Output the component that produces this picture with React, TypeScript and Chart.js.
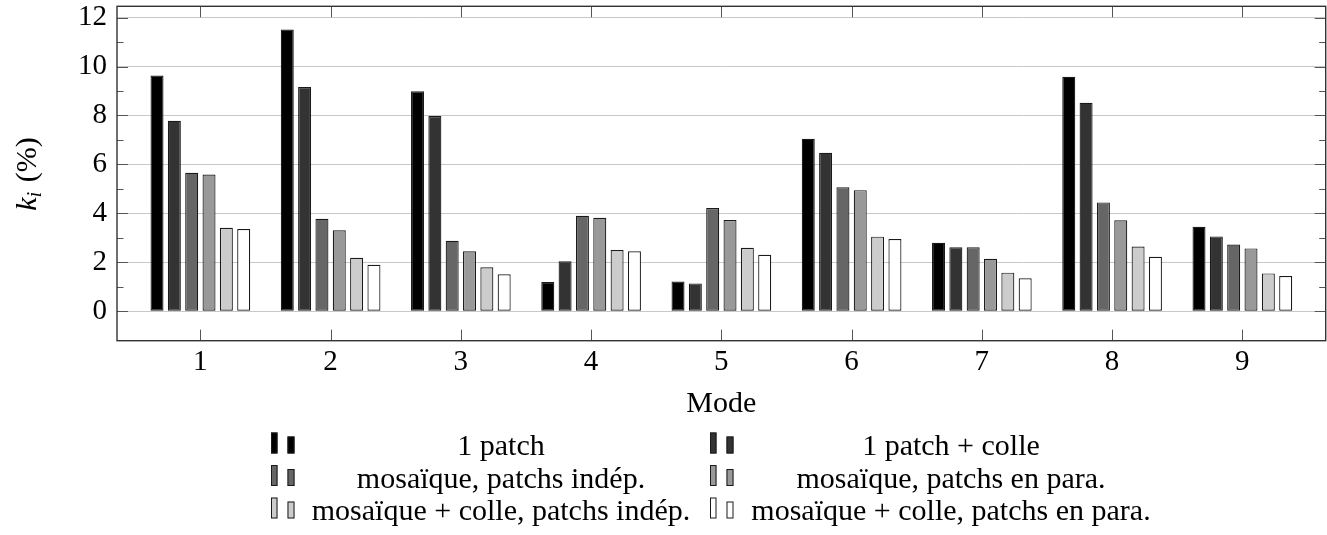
import React, { useEffect, useRef } from 'react';
import { Chart, registerables } from 'chart.js';

Chart.register(...registerables);

const categories = [1, 2, 3, 4, 5, 6, 7, 8, 9];
const seriesNames = [
  '1 patch',
  '1 patch + colle',
  'mosaïque, patchs indép.',
  'mosaïque, patchs en para.',
  'mosaïque + colle, patchs indép.',
  'mosaïque + colle, patchs en para.',
];
const onePatch = [9.63, 11.51, 8.99, 1.2, 1.22, 7.05, 2.8, 9.58, 3.45];
const onePatchColle = [7.78, 9.16, 7.98, 2.05, 1.14, 6.48, 2.62, 8.52, 3.06];
const mosaicIndep = [5.66, 3.78, 2.88, 3.9, 4.22, 5.07, 2.62, 4.45, 2.73];
const mosaicPara = [5.59, 3.31, 2.45, 3.82, 3.73, 4.95, 2.15, 3.72, 2.57];
const mosaicColleIndep = [3.41, 2.19, 1.8, 2.5, 2.6, 3.05, 1.58, 2.65, 1.55];
const mosaicCollePara = [3.36, 1.9, 1.51, 2.45, 2.31, 2.95, 1.35, 2.23, 1.44];
const yTicks = [0, 2, 4, 6, 8, 10, 12];
const yMinorTicks = [1, 3, 5, 7, 9, 11];
const xTitle = 'Mode';

const allSeries = [onePatch, onePatchColle, mosaicIndep, mosaicPara, mosaicColleIndep, mosaicCollePara];
const fills = ['#000000', '#333333', '#666666', '#999999', '#cccccc', '#ffffff'];
const FAM = "'Liberation Serif', 'Times New Roman', serif";

const decorPlugin = {
  id: 'decor',
  afterDatasetsDraw(chart: any) {
    const { ctx, chartArea } = chart;
    const xs = chart.scales.x;
    const ys = chart.scales.y;
    const { left, right, top, bottom } = chartArea;
    ctx.save();
    ctx.strokeStyle = '#555555';
    ctx.lineWidth = 1;
    categories.forEach((c) => {
      const px = Math.round(xs.getPixelForValue(c)) + 0.5;
      ctx.beginPath();
      ctx.moveTo(px, bottom);
      ctx.lineTo(px, bottom - 11);
      ctx.moveTo(px, top);
      ctx.lineTo(px, top + 11);
      ctx.stroke();
    });
    yTicks.forEach((v) => {
      const py = Math.round(ys.getPixelForValue(v)) + 0.5;
      ctx.beginPath();
      ctx.moveTo(left, py);
      ctx.lineTo(left + 11, py);
      ctx.moveTo(right, py);
      ctx.lineTo(right - 11, py);
      ctx.stroke();
    });
    yMinorTicks.forEach((v) => {
      const py = Math.round(ys.getPixelForValue(v)) + 0.5;
      ctx.beginPath();
      ctx.moveTo(left, py);
      ctx.lineTo(left + 6.5, py);
      ctx.moveTo(right, py);
      ctx.lineTo(right - 6.5, py);
      ctx.stroke();
    });
    ctx.strokeStyle = '#333333';
    ctx.lineWidth = 1.4;
    ctx.strokeRect(left, top, right - left, bottom - top);
    ctx.restore();
  },
  afterDraw(chart: any) {
    const { ctx, chartArea } = chart;
    ctx.save();
    ctx.fillStyle = '#000';
    ctx.save();
    ctx.translate(36, 174);
    ctx.rotate(-Math.PI / 2);
    const fK = `italic 30px ${FAM}`;
    const fI = `italic 21px ${FAM}`;
    const fR = `30px ${FAM}`;
    ctx.font = fK;
    const wK = ctx.measureText('k').width;
    ctx.font = fI;
    const wI = ctx.measureText('i').width + 2;
    ctx.font = fR;
    const wR = ctx.measureText(' (%)').width;
    const x0 = -(wK + wI + wR) / 2;
    ctx.textAlign = 'left';
    ctx.textBaseline = 'alphabetic';
    ctx.font = fK;
    ctx.fillText('k', x0, 0);
    ctx.font = fI;
    ctx.fillText('i', x0 + wK, 5);
    ctx.font = fR;
    ctx.fillText(' (%)', x0 + wK + wI, 0);
    ctx.restore();

    ctx.font = `30px ${FAM}`;
    ctx.textAlign = 'center';
    ctx.textBaseline = 'alphabetic';
    ctx.fillText(xTitle, (chartArea.left + chartArea.right) / 2, 411.5);

    const colMarkerX = [271, 710];
    const colTextX = [501, 951];
    const rowBase = [455, 487.5, 520];
    ctx.font = `30px ${FAM}`;
    seriesNames.forEach((name, i) => {
      const r = Math.floor(i / 2);
      const c = i % 2;
      const base = rowBase[r];
      const mb = base - 1.5;
      ctx.fillStyle = fills[i];
      ctx.strokeStyle = '#1a1a1a';
      ctx.lineWidth = 1;
      ctx.fillRect(colMarkerX[c], mb - 21, 6.5, 21);
      ctx.strokeRect(colMarkerX[c] + 0.5, mb - 20.5, 5.5, 20);
      ctx.fillRect(colMarkerX[c] + 16.5, mb - 17, 7, 17);
      ctx.strokeRect(colMarkerX[c] + 17, mb - 16.5, 6, 16);
      ctx.fillStyle = '#000';
      ctx.textAlign = 'center';
      ctx.fillText(name, colTextX[c], base);
    });
    ctx.restore();
  },
};

export default function App() {
  const ref = useRef<HTMLCanvasElement | null>(null);
  useEffect(() => {
    if (!ref.current) return;
    const chart = new Chart(ref.current, {
      type: 'bar',
      data: {
        datasets: allSeries.map((vals, i) => ({
          label: seriesNames[i],
          data: categories.map((c, j) => ({ x: c, y: vals[j] })),
          backgroundColor: fills[i],
          borderColor: '#1a1a1a',
          borderWidth: 1.2,
          borderSkipped: false,
          categoryPercentage: 0.7985,
          barPercentage: 0.75,
        })),
      },
      options: {
        responsive: false,
        maintainAspectRatio: false,
        animation: false,
        layout: { padding: { top: 6.3, right: 1.3, left: 0, bottom: 0 } },
        plugins: { legend: { display: false }, tooltip: { enabled: false } },
        scales: {
          x: {
            type: 'linear',
            min: 0.36,
            max: 9.64,
            offset: false,
            grid: { display: false, drawTicks: false },
            border: { display: false },
            afterBuildTicks: (s: any) => {
              s.ticks = categories.map((v) => ({ value: v }));
            },
            afterFit: (s: any) => {
              s.height = 194.3;
              s.paddingLeft = 0;
              s.paddingRight = 0;
            },
            ticks: {
              font: { family: FAM, size: 29 },
              color: '#000',
              padding: 4,
              maxRotation: 0,
              autoSkip: false,
              callback: (v: any) => String(v),
            },
          },
          y: {
            type: 'linear',
            min: -1.2,
            max: 12.46,
            afterBuildTicks: (s: any) => {
              s.ticks = yTicks.map((v) => ({ value: v }));
            },
            afterFit: (s: any) => {
              s.width = 117;
              s.paddingTop = 0;
              s.paddingBottom = 0;
            },
            grid: { color: '#c8c8c8', lineWidth: 1, drawTicks: false },
            border: { display: false },
            ticks: {
              font: { family: FAM, size: 29 },
              color: '#000',
              padding: 10,
              callback: (v: any) => String(v),
            },
          },
        },
      },
      plugins: [decorPlugin],
    } as any);
    return () => chart.destroy();
  }, []);
  return (
    <div style={{ position: 'absolute', left: 0, top: 0, width: 1327, height: 535, background: '#fff' }}>
      <canvas ref={ref} width={1327} height={535} style={{ display: 'block' }} />
    </div>
  );
}
